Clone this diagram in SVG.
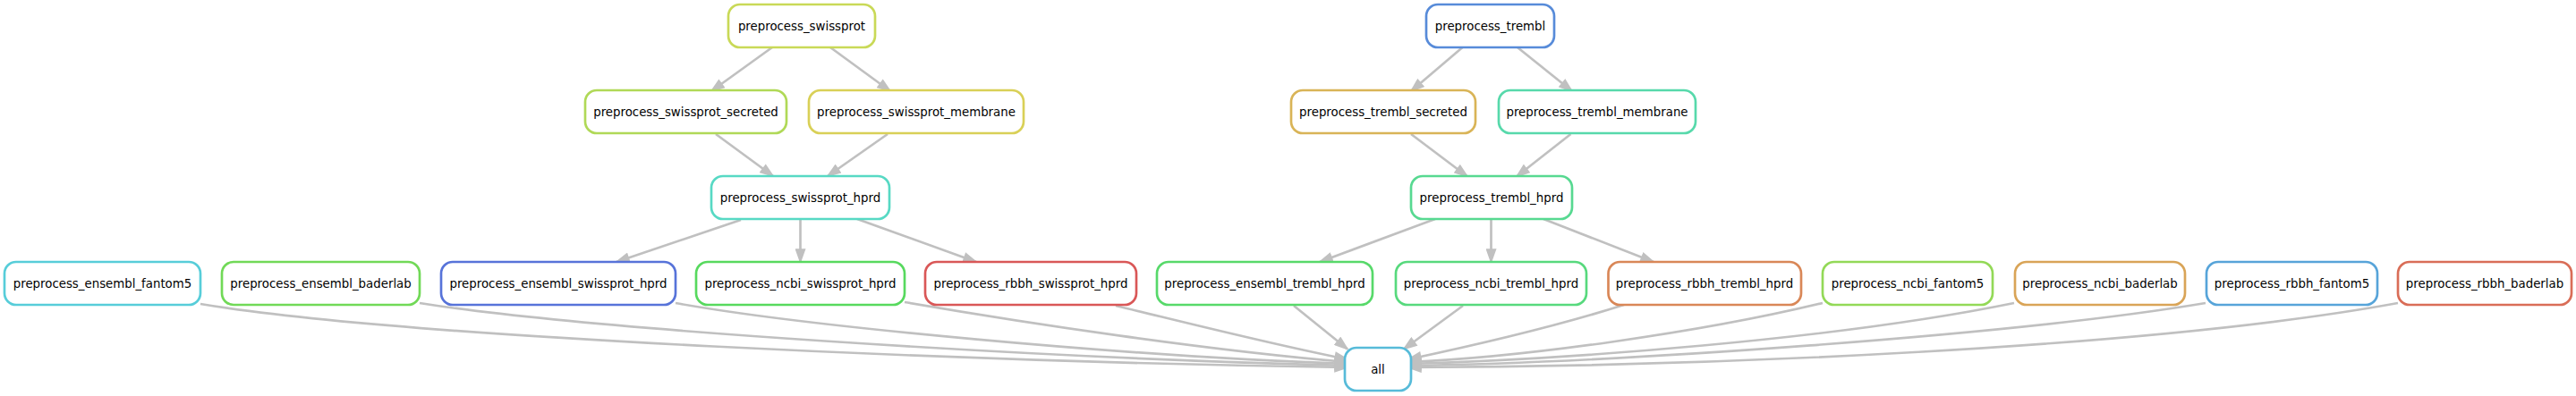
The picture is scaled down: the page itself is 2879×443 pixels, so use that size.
<svg xmlns="http://www.w3.org/2000/svg" width="2879" height="443" viewBox="0 0 2879 443">
<style>
.n rect{fill:#ffffff;stroke-width:2.67}
.n text{font-family:"DejaVu Sans",sans-serif;font-size:13.33px;fill:#000000;text-anchor:middle}
.e path{fill:none;stroke:#c0c0c0;stroke-width:2.67}
</style>
<defs>
<marker id="ah" viewBox="-1 -1 16 12" refX="14" refY="5" markerWidth="16" markerHeight="12" markerUnits="userSpaceOnUse" orient="auto">
<path d="M0,0 L14,5 L0,10 Z" fill="#c0c0c0" stroke="#c0c0c0" stroke-width="1.5"/>
</marker>
</defs>
<rect width="2879" height="443" fill="#ffffff"/>
<g id="connectors" class="e">
<path d="M863,53 L795,102" marker-end="url(#ah)"/>
<path d="M928,53 L995,102" marker-end="url(#ah)"/>
<path d="M800,150 L864,197" marker-end="url(#ah)"/>
<path d="M992,150 L925,197" marker-end="url(#ah)"/>
<path d="M828,246 L689,293" marker-end="url(#ah)"/>
<path d="M894.5,246 L894.5,293" marker-end="url(#ah)"/>
<path d="M958,245 L1091,293" marker-end="url(#ah)"/>
<path d="M1634.5,53 L1577,102" marker-end="url(#ah)"/>
<path d="M1696,53 L1757,102" marker-end="url(#ah)"/>
<path d="M1577,150 L1640,197.5" marker-end="url(#ah)"/>
<path d="M1755.5,150 L1695,197.5" marker-end="url(#ah)"/>
<path d="M1604,245 L1475,293" marker-end="url(#ah)"/>
<path d="M1666.5,245 L1666.5,293" marker-end="url(#ah)"/>
<path d="M1725,245 L1848,293" marker-end="url(#ah)"/>
<path d="M1446,342 L1506,390.5" marker-end="url(#ah)"/>
<path d="M1635,342 L1569,390.5" marker-end="url(#ah)"/>
<path d="M224,340 C450,378 1100,405 1506,411" marker-end="url(#ah)"/>
<path d="M469,339 C650,368 1150,400 1506,409" marker-end="url(#ah)"/>
<path d="M755,339 C900,365 1250,398 1506,407" marker-end="url(#ah)"/>
<path d="M1011,338 C1150,362 1350,392 1506,405" marker-end="url(#ah)"/>
<path d="M1247,342 C1330,362 1420,385 1506,402" marker-end="url(#ah)"/>
<path d="M1815,341 C1740,365 1640,388 1574,402" marker-end="url(#ah)"/>
<path d="M2037,339 C1900,372 1700,400 1574,405" marker-end="url(#ah)"/>
<path d="M2251,339 C2050,380 1750,402 1574,407" marker-end="url(#ah)"/>
<path d="M2465,339 C2250,375 1800,406 1574,409" marker-end="url(#ah)"/>
<path d="M2680,339 C2400,390 1900,410 1574,411" marker-end="url(#ah)"/>
</g>
<g id="preprocess_swissprot" class="n"><rect x="814" y="5" width="164" height="48" rx="13" stroke="#c9d957"/><text x="896" y="34">preprocess_swissprot</text></g>
<g id="preprocess_swissprot_secreted" class="n"><rect x="654" y="101" width="225" height="48" rx="13" stroke="#b0d957"/><text x="766.5" y="130">preprocess_swissprot_secreted</text></g>
<g id="preprocess_swissprot_membrane" class="n"><rect x="904" y="101" width="240" height="48" rx="13" stroke="#d9d057"/><text x="1024" y="130">preprocess_swissprot_membrane</text></g>
<g id="preprocess_swissprot_hprd" class="n"><rect x="795" y="197" width="199" height="48" rx="13" stroke="#57d9c4"/><text x="894.5" y="226">preprocess_swissprot_hprd</text></g>
<g id="preprocess_trembl" class="n"><rect x="1594" y="5" width="143" height="48" rx="13" stroke="#578bd9"/><text x="1665.5" y="34">preprocess_trembl</text></g>
<g id="preprocess_trembl_secreted" class="n"><rect x="1443" y="101" width="206" height="48" rx="13" stroke="#d9b457"/><text x="1546" y="130">preprocess_trembl_secreted</text></g>
<g id="preprocess_trembl_membrane" class="n"><rect x="1675" y="101" width="220" height="48" rx="13" stroke="#57d9ab"/><text x="1785" y="130">preprocess_trembl_membrane</text></g>
<g id="preprocess_trembl_hprd" class="n"><rect x="1577" y="197" width="180" height="48" rx="13" stroke="#57d991"/><text x="1667" y="226">preprocess_trembl_hprd</text></g>
<g id="preprocess_ensembl_fantom5" class="n"><rect x="5" y="293" width="219" height="48" rx="13" stroke="#57cdd9"/><text x="114.5" y="322">preprocess_ensembl_fantom5</text></g>
<g id="preprocess_ensembl_baderlab" class="n"><rect x="248" y="293" width="221" height="48" rx="13" stroke="#71d957"/><text x="358.5" y="322">preprocess_ensembl_baderlab</text></g>
<g id="preprocess_ensembl_swissprot_hprd" class="n"><rect x="493" y="293" width="262" height="48" rx="13" stroke="#5773d9"/><text x="624" y="322">preprocess_ensembl_swissprot_hprd</text></g>
<g id="preprocess_ncbi_swissprot_hprd" class="n"><rect x="778" y="293" width="233" height="48" rx="13" stroke="#57d95e"/><text x="894.5" y="322">preprocess_ncbi_swissprot_hprd</text></g>
<g id="preprocess_rbbh_swissprot_hprd" class="n"><rect x="1034" y="293" width="236" height="48" rx="13" stroke="#d95757"/><text x="1152" y="322">preprocess_rbbh_swissprot_hprd</text></g>
<g id="preprocess_ensembl_trembl_hprd" class="n"><rect x="1293" y="293" width="241" height="48" rx="13" stroke="#57d96a"/><text x="1413.5" y="322">preprocess_ensembl_trembl_hprd</text></g>
<g id="preprocess_ncbi_trembl_hprd" class="n"><rect x="1560" y="293" width="213" height="48" rx="13" stroke="#57d97d"/><text x="1666.5" y="322">preprocess_ncbi_trembl_hprd</text></g>
<g id="preprocess_rbbh_trembl_hprd" class="n"><rect x="1797.5" y="293" width="215.5" height="48" rx="13" stroke="#d98757"/><text x="1905" y="322">preprocess_rbbh_trembl_hprd</text></g>
<g id="preprocess_ncbi_fantom5" class="n"><rect x="2037" y="293" width="190" height="48" rx="13" stroke="#93d957"/><text x="2132" y="322">preprocess_ncbi_fantom5</text></g>
<g id="preprocess_ncbi_baderlab" class="n"><rect x="2252" y="293" width="190" height="48" rx="13" stroke="#d9a457"/><text x="2347" y="322">preprocess_ncbi_baderlab</text></g>
<g id="preprocess_rbbh_fantom5" class="n"><rect x="2466" y="293" width="191" height="48" rx="13" stroke="#57a4d9"/><text x="2561.5" y="322">preprocess_rbbh_fantom5</text></g>
<g id="preprocess_rbbh_baderlab" class="n"><rect x="2680" y="293" width="194" height="48" rx="13" stroke="#d96d57"/><text x="2777" y="322">preprocess_rbbh_baderlab</text></g>
<g id="all" class="n"><rect x="1503" y="389" width="74" height="48" rx="13" stroke="#57bbd9"/><text x="1540" y="418">all</text></g>
</svg>
